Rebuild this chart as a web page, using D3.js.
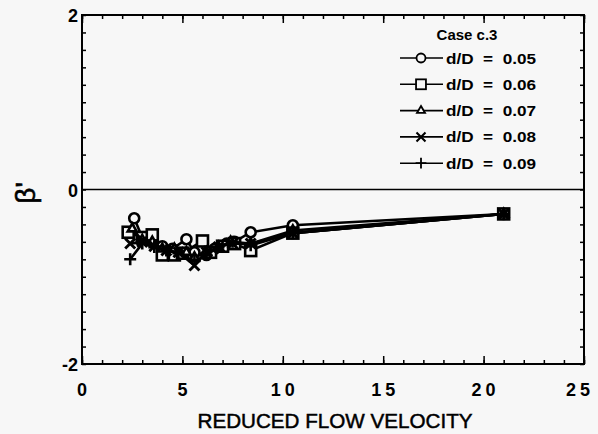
<!DOCTYPE html>
<html>
<head>
<meta charset="utf-8">
<script src="https://cdn.jsdelivr.net/npm/d3@7"></script>
<style>
  body { margin: 0; background: #f7f7f7; }
  svg { display: block; font-family: "Liberation Sans", Arial, sans-serif; }
  .frame { fill: none; stroke: #000; stroke-width: 2; }
  .tick line { stroke: #000; stroke-width: 1.5; }
  .domain { display: none; }
  .ticklab { font-size: 18px; font-weight: bold; }
  .legend text { font-size: 14px; font-weight: bold; }
</style>
</head>
<body>
<div id="chart"></div>
<script>
// Case c.3 series: reduced flow velocity vs beta'
const names = ["d/D\u00a0\u00a0=\u00a0\u00a00.05", "d/D\u00a0\u00a0=\u00a0\u00a00.06", "d/D\u00a0\u00a0=\u00a0\u00a00.07",
               "d/D\u00a0\u00a0=\u00a0\u00a00.08", "d/D\u00a0\u00a0=\u00a0\u00a00.09"];
const symbols = ["circle", "square", "triangle", "cross", "plus"];
const xTicks = [0, 5, 10, 15, 20, 25];
const yTicks = [-2, 0, 2];

const x05 = [2.6, 3.0, 3.5, 4.0, 4.5, 5.2, 5.6, 6.2, 6.6, 7.2, 7.6, 8.4, 10.5, 21.0];
const y05 = [-0.33, -0.55, -0.55, -0.65, -0.68, -0.57, -0.72, -0.75, -0.68, -0.62, -0.60, -0.49, -0.41, -0.28];
const x06 = [2.3, 3.0, 3.5, 4.0, 4.6, 5.0, 6.0, 6.4, 7.0, 7.6, 8.4, 10.5, 21.0];
const y06 = [-0.49, -0.55, -0.52, -0.75, -0.75, -0.73, -0.59, -0.72, -0.65, -0.62, -0.70, -0.50, -0.28];
const x07 = [2.5, 3.0, 3.5, 4.0, 4.6, 5.2, 5.6, 6.2, 6.8, 7.4, 8.4, 10.5, 21.0];
const y07 = [-0.45, -0.58, -0.60, -0.68, -0.68, -0.72, -0.78, -0.72, -0.66, -0.60, -0.62, -0.47, -0.28];
const x08 = [2.4, 3.0, 3.6, 4.2, 4.8, 5.6, 6.2, 6.8, 7.5, 8.4, 10.5, 21.0];
const y08 = [-0.62, -0.60, -0.65, -0.70, -0.72, -0.87, -0.72, -0.66, -0.62, -0.62, -0.50, -0.28];
const x09 = [2.4, 3.0, 3.6, 4.2, 4.8, 5.6, 6.2, 6.8, 7.5, 8.4, 10.5, 21.0];
const y09 = [-0.80, -0.62, -0.66, -0.70, -0.73, -0.82, -0.75, -0.66, -0.60, -0.64, -0.50, -0.28];

const xs = [x05, x06, x07, x08, x09];
const ys = [y05, y06, y07, y08, y09];
const series = names.map((n, i) => ({
  name: n, sym: symbols[i],
  values: xs[i].map((v, j) => ({x: v, y: ys[i][j]}))
}));

const W = 598, H = 434;
const margin = {top: 15, right: 14, bottom: 70, left: 82};
const w = W - margin.left - margin.right;
const h = H - margin.top - margin.bottom;

const svg = d3.select("#chart").append("svg")
  .attr("width", W).attr("height", H);
const g = svg.append("g").attr("transform", `translate(${margin.left},${margin.top})`);

const x = d3.scaleLinear().domain([0, 25]).range([0, w]);
const y = d3.scaleLinear().domain([-2, 2]).range([h, 0]);

// Inward ticks on all four sides
g.append("g").attr("transform", `translate(0,${h})`)
  .call(d3.axisBottom(x).tickValues(d3.range(0, 26, 1)).tickSize(-4).tickFormat(""));
g.append("g").attr("transform", `translate(0,${h})`)
  .call(d3.axisBottom(x).tickValues(xTicks).tickSize(-8).tickFormat(""));
g.append("g")
  .call(d3.axisTop(x).tickValues(d3.range(0, 26, 1)).tickSize(-4).tickFormat(""));
g.append("g")
  .call(d3.axisTop(x).tickValues(xTicks).tickSize(-8).tickFormat(""));
g.append("g")
  .call(d3.axisLeft(y).tickValues(d3.range(-20, 21, 2).map(d => d / 10)).tickSize(-4).tickFormat(""));
g.append("g").attr("transform", `translate(${w},0)`)
  .call(d3.axisRight(y).tickValues(d3.range(-20, 21, 2).map(d => d / 10)).tickSize(-4).tickFormat(""));

g.append("rect").attr("class", "frame").attr("width", w).attr("height", h);

// zero line
g.append("line")
  .attr("x1", 0).attr("x2", w).attr("y1", y(0)).attr("y2", y(0))
  .attr("stroke", "#000").attr("stroke-width", 1.5);

// Tick labels
g.selectAll(".xlab").data(xTicks).enter().append("text")
  .attr("class", "ticklab")
  .attr("x", d => x(d)).attr("y", h + 32)
  .attr("text-anchor", "middle")
  .style("letter-spacing", d => d >= 10 ? "4px" : "0px")
  .attr("dx", d => d === 25 ? -4 : (d >= 10 ? 2 : 0))
  .text(d => d);
g.selectAll(".ylab").data(yTicks).enter().append("text")
  .attr("class", "ticklab")
  .attr("x", -4).attr("y", d => y(d) + 7)
  .attr("text-anchor", "end")
  .text(d => d);

// Axis titles
svg.append("text")
  .attr("x", 335).attr("y", 428)
  .attr("text-anchor", "middle")
  .attr("textLength", 275).attr("lengthAdjust", "spacingAndGlyphs")
  .attr("stroke", "#000").attr("stroke-width", 0.5)
  .style("font-size", "21px")
  .text("REDUCED FLOW VELOCITY");
svg.append("text")
  .attr("transform", "translate(35,193) rotate(-90)")
  .attr("text-anchor", "middle")
  .attr("stroke", "#000").attr("stroke-width", 0.6)
  .style("font-size", "28px")
  .text("β'");

// Marker drawing
function marker(sel, sym, size, sw) {
  const s = size;
  if (sym === "circle") {
    sel.append("circle").attr("r", s * 0.5)
      .attr("fill", "#f7f7f7").attr("stroke", "#000").attr("stroke-width", sw);
  } else if (sym === "square") {
    sel.append("rect").attr("x", -s * 0.55).attr("y", -s * 0.55)
      .attr("width", s * 1.1).attr("height", s * 1.1)
      .attr("fill", "#f7f7f7").attr("stroke", "#000").attr("stroke-width", sw);
  } else if (sym === "triangle") {
    sel.append("path").attr("d", d3.symbol(d3.symbolTriangle, s * s * 0.35)())
      .attr("fill", "#f7f7f7").attr("stroke", "#000").attr("stroke-width", sw);
  } else if (sym === "cross") {
    const a = s * 0.5;
    sel.append("path").attr("d", `M${-a},${-a}L${a},${a}M${-a},${a}L${a},${-a}`)
      .attr("stroke", "#000").attr("stroke-width", sw + 0.3);
  } else {
    const a = s * 0.6;
    sel.append("path").attr("d", `M${-a},0L${a},0M0,${-a}L0,${a}`)
      .attr("stroke", "#000").attr("stroke-width", sw);
  }
}

const line = d3.line().x(d => x(d.x)).y(d => y(d.y));

const sg = g.selectAll(".series").data(series).enter().append("g");
sg.append("path")
  .attr("fill", "none").attr("stroke", "#000").attr("stroke-width", 2.6)
  .attr("d", d => line(d.values));
sg.each(function(s) {
  d3.select(this).selectAll(".pt").data(s.values).enter().append("g")
    .attr("transform", d => `translate(${x(d.x)},${y(d.y)})`)
    .each(function() { marker(d3.select(this), s.sym, 10, 2.6); });
});

// Legend
const lg = svg.append("g").attr("class", "legend");
lg.append("text").attr("x", 467).attr("y", 40).attr("text-anchor", "middle")
  .style("font-size", "15px").text("Case c.3");
const le = lg.selectAll(".le").data(series).enter().append("g")
  .attr("transform", (d, i) => `translate(0,${58 + i * 26.3})`);
le.append("line").attr("x1", 400).attr("x2", 443).attr("y1", 0).attr("y2", 0)
  .attr("stroke", "#000").attr("stroke-width", 1.6);
le.append("g").attr("transform", "translate(421,0)")
  .each(function(d) { marker(d3.select(this), d.sym, 9, 1.8); });
le.append("text").attr("x", 446).attr("y", 5.5)
  .attr("textLength", 90).attr("lengthAdjust", "spacingAndGlyphs")
  .text(d => d.name);
</script>
</body>
</html>
